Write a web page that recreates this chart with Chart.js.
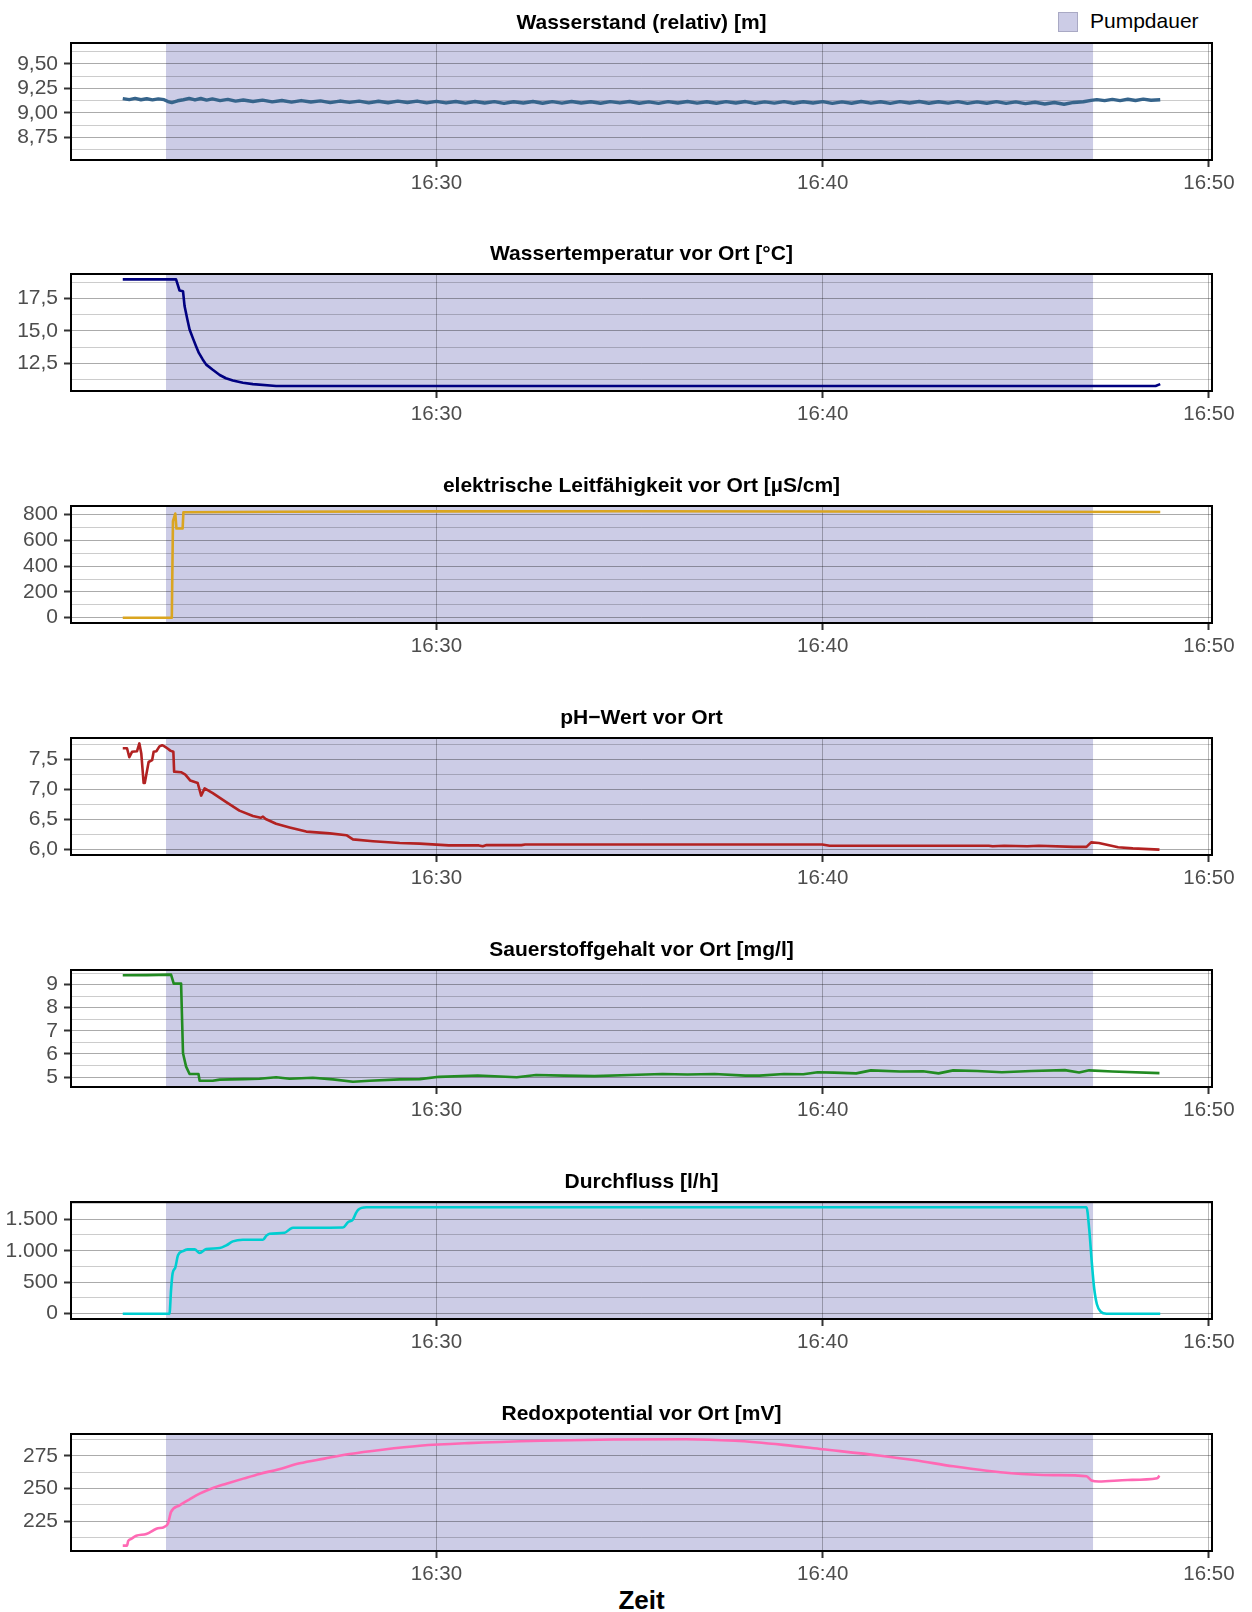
<!DOCTYPE html>
<html>
<head>
<meta charset="utf-8">
<script src="https://cdn.jsdelivr.net/npm/chart.js@4.4.1/dist/chart.umd.min.js"></script>
<style>
  body { margin: 0; width: 1252px; height: 1612px; position: relative; overflow: hidden; background: #fff; font-family: "Liberation Sans", Arial, sans-serif; }
  canvas { position: absolute; left: 0; }
  .title { position: absolute; left: 71px; width: 1141px; height: 30px; line-height: 30px; text-align: center; font-weight: bold; font-size: 21px; color: #000; }
  #legendKey { position: absolute; left: 1058px; top: 12px; width: 20px; height: 20px; box-sizing: border-box; background: #CCCCE6; border: 1px solid #A9A9C4; }
  #legendText { position: absolute; left: 1090px; top: 7px; font-size: 21px; line-height: 28px; color: #000; }
  #xTitle { position: absolute; left: 71px; width: 1141px; top: 1584px; text-align: center; font-weight: bold; font-size: 26px; line-height: 32px; color: #000; }
</style>
</head>
<body>
<div id="legendKey"></div>
<div id="legendText">Pumpdauer</div>
<div id="xTitle">Zeit</div>
<script>
// time in minutes after 16:00
const xMin = 20.54;
const xMax = 50.08;
const pumpStart = 23.0;
const pumpEnd = 47.0;
const xTickValues = [30, 40, 50];
const xTickLabels = ['16:30', '16:40', '16:50'];

const panelTitles = [
	'Wasserstand (relativ) [m]',
	'Wassertemperatur vor Ort [°C]',
	'elektrische Leitfähigkeit vor Ort [µS/cm]',
	'pH\u2212Wert vor Ort',
	'Sauerstoffgehalt vor Ort [mg/l]',
	'Durchfluss [l/h]',
	'Redoxpotential vor Ort [mV]'
];

// [minute, value]
const levelData = [[21.88,9.146],[22.05,9.136],[22.2,9.148],[22.35,9.134],[22.5,9.144],[22.65,9.133],[22.8,9.143],[22.95,9.135],[23.05,9.116],[23.15,9.106],[23.3,9.124],[23.45,9.134],[23.6,9.148],[23.75,9.132],[23.9,9.147],[24.05,9.131],[24.2,9.143],[24.4,9.126],[24.6,9.138],[24.8,9.12],[25.0,9.132],[25.25,9.116],[25.5,9.13],[25.75,9.113],[26.0,9.127],[26.25,9.11],[26.5,9.126],[26.75,9.111],[27.0,9.123],[27.25,9.105],[27.5,9.121],[27.75,9.107],[28.0,9.12],[28.25,9.103],[28.5,9.119],[28.75,9.104],[29.0,9.12],[29.25,9.106],[29.5,9.121],[29.75,9.103],[30.0,9.118],[30.25,9.102],[30.5,9.117],[30.75,9.1],[31.0,9.116],[31.25,9.101],[31.5,9.115],[31.75,9.098],[32.0,9.114],[32.25,9.101],[32.5,9.116],[32.75,9.099],[33.0,9.115],[33.25,9.1],[33.5,9.117],[33.75,9.101],[34.0,9.114],[34.25,9.099],[34.5,9.115],[34.75,9.102],[35.0,9.116],[35.25,9.099],[35.5,9.113],[35.75,9.098],[36.0,9.115],[36.25,9.101],[36.5,9.116],[36.75,9.1],[37.0,9.114],[37.25,9.099],[37.5,9.115],[37.75,9.101],[38.0,9.116],[38.25,9.098],[38.5,9.113],[38.75,9.1],[39.0,9.115],[39.25,9.099],[39.5,9.114],[39.75,9.101],[40.0,9.115],[40.25,9.098],[40.5,9.113],[40.75,9.099],[41.0,9.116],[41.25,9.1],[41.5,9.114],[41.75,9.098],[42.0,9.115],[42.25,9.101],[42.5,9.116],[42.75,9.099],[43.0,9.114],[43.25,9.1],[43.5,9.115],[43.75,9.098],[44.0,9.113],[44.25,9.099],[44.5,9.115],[44.75,9.097],[45.0,9.112],[45.25,9.095],[45.5,9.109],[45.75,9.091],[46.0,9.106],[46.25,9.089],[46.5,9.107],[46.75,9.114],[46.95,9.128],[47.1,9.136],[47.3,9.125],[47.5,9.138],[47.7,9.126],[47.9,9.139],[48.1,9.127],[48.3,9.14],[48.5,9.129],[48.74,9.135]];

const tempData = [[21.88,18.96],[23.26,18.96],[23.35,18.1],[23.44,18.05],[23.48,16.9],[23.55,15.9],[23.61,15.1],[23.7,14.4],[23.78,13.8],[23.85,13.3],[23.95,12.8],[24.04,12.4],[24.21,12.0],[24.39,11.6],[24.55,11.35],[24.73,11.17],[24.99,11.0],[25.25,10.9],[25.85,10.76],[48.62,10.76],[48.74,10.9]];

const condData = [[21.88,0],[23.15,0],[23.18,750],[23.24,808],[23.27,692],[23.43,692],[23.45,818],[26.0,822],[30.0,825],[35.0,826],[40.0,824],[45.0,822],[48.74,820]];

const phData = [[21.88,7.69],[21.99,7.69],[22.05,7.54],[22.12,7.63],[22.25,7.64],[22.31,7.77],[22.36,7.6],[22.42,7.11],[22.45,7.11],[22.55,7.46],[22.64,7.49],[22.68,7.63],[22.75,7.64],[22.83,7.72],[22.9,7.74],[22.96,7.72],[23.05,7.68],[23.11,7.65],[23.19,7.63],[23.21,7.3],[23.39,7.29],[23.5,7.25],[23.63,7.15],[23.82,7.11],[23.91,6.9],[24.0,7.02],[24.21,6.94],[24.56,6.79],[24.9,6.65],[25.25,6.56],[25.45,6.53],[25.51,6.55],[25.58,6.51],[25.85,6.43],[26.2,6.37],[26.63,6.3],[27.24,6.27],[27.67,6.24],[27.84,6.17],[28.36,6.14],[29.05,6.11],[29.57,6.1],[30.32,6.07],[31.1,6.07],[31.2,6.055],[31.3,6.075],[32.2,6.075],[32.3,6.085],[39.99,6.085],[40.18,6.065],[44.3,6.065],[44.4,6.055],[44.7,6.065],[45.3,6.055],[45.6,6.065],[46.5,6.045],[46.83,6.045],[46.95,6.12],[47.15,6.11],[47.65,6.04],[48.03,6.02],[48.72,6.0]];

const oxygenData = [[21.88,9.4],[22.5,9.41],[23.13,9.43],[23.2,9.04],[23.39,9.04],[23.44,6.03],[23.52,5.45],[23.61,5.13],[23.84,5.13],[23.87,4.84],[24.21,4.84],[24.39,4.89],[25.0,4.91],[25.42,4.93],[25.85,4.99],[26.2,4.93],[26.8,4.97],[27.32,4.9],[27.84,4.8],[28.27,4.84],[29.05,4.9],[29.57,4.91],[30.07,5.01],[31.07,5.07],[32.08,4.99],[32.58,5.09],[33.3,5.06],[34.09,5.04],[35.0,5.09],[35.85,5.13],[36.5,5.11],[37.2,5.13],[38.0,5.06],[38.36,5.06],[39.0,5.13],[39.5,5.12],[39.87,5.21],[40.3,5.19],[40.87,5.16],[41.25,5.29],[42.0,5.24],[42.6,5.25],[43.0,5.16],[43.38,5.29],[44.0,5.26],[44.64,5.21],[45.4,5.26],[46.27,5.3],[46.64,5.2],[46.9,5.29],[47.5,5.24],[48.72,5.17]];

const flowData = [[21.88,0],[23.09,0],[23.13,374],[23.17,638],[23.24,733],[23.31,927],[23.44,995],[23.56,1022],[23.74,1022],[23.87,963],[24.04,1027],[24.39,1042],[24.56,1085],[24.73,1148],[24.99,1174],[25.51,1174],[25.6,1240],[25.68,1269],[26.07,1285],[26.2,1340],[26.29,1364],[27.58,1369],[27.71,1453],[27.84,1495],[27.92,1600],[27.97,1648],[28.19,1690],[46.83,1690],[46.9,1350],[46.97,800],[47.03,400],[47.1,150],[47.2,30],[47.35,0],[48.74,0]];

const redoxData = [[21.88,206.3],[21.99,206.3],[22.02,209.8],[22.1,211.5],[22.23,213.9],[22.49,215.2],[22.75,219.2],[22.96,220.7],[23.05,223.3],[23.13,232.1],[23.35,237.1],[23.6,241.5],[23.87,246.0],[24.2,250.2],[24.56,253.6],[25.0,257.5],[25.42,261.1],[25.9,264.5],[26.46,269.2],[27.1,272.8],[27.75,276.3],[28.6,279.6],[29.57,282.6],[30.82,284.6],[32.71,286.4],[34.59,287.4],[36.47,287.6],[37.73,286.4],[38.98,283.3],[39.99,280.0],[41.5,275.0],[42.4,271.5],[43.38,266.9],[44.89,261.6],[46.0,260.2],[46.83,259.3],[46.96,256.1],[47.15,255.3],[47.9,256.5],[48.66,257.8],[48.72,259.8]];

// y axis ticks per panel
const levelTicks = [8.75, 9.0, 9.25, 9.5];
const levelLabels = ['8,75', '9,00', '9,25', '9,50'];
const tempTicks = [12.5, 15, 17.5];
const tempLabels = ['12,5', '15,0', '17,5'];
const condTicks = [0, 200, 400, 600, 800];
const condLabels = ['0', '200', '400', '600', '800'];
const phTicks = [6.0, 6.5, 7.0, 7.5];
const phLabels = ['6,0', '6,5', '7,0', '7,5'];
const oxygenTicks = [5, 6, 7, 8, 9];
const oxygenLabels = ['5', '6', '7', '8', '9'];
const flowTicks = [0, 500, 1000, 1500];
const flowLabels = ['0', '500', '1.000', '1.500'];
const redoxTicks = [225, 250, 275];
const redoxLabels = ['225', '250', '275'];

const panels = [
	{ data: levelData, color: '#36648B', min: 8.522, max: 9.711, ticks: levelTicks, labels: levelLabels, width: 3.4 },
	{ data: tempData, color: '#000080', min: 10.37, max: 19.37, ticks: tempTicks, labels: tempLabels },
	{ data: condData, color: '#DAA520', min: -41.3, max: 867, ticks: condTicks, labels: condLabels },
	{ data: phData, color: '#B22222', min: 5.91, max: 7.86, ticks: phTicks, labels: phLabels },
	{ data: oxygenData, color: '#228B22', min: 4.57, max: 9.63, ticks: oxygenTicks, labels: oxygenLabels },
	{ data: flowData, color: '#00CED1', min: -84.5, max: 1774, ticks: flowTicks, labels: flowLabels, smooth: true },
	{ data: redoxData, color: '#FF69B4', min: 202.2, max: 291.6, ticks: redoxTicks, labels: redoxLabels, smooth: true }
];

const canvasTops = [0, 231, 463, 695, 927, 1159, 1391];
const fontFamily = '"Liberation Sans", Arial, sans-serif';

const pumpShade = {
	id: 'pumpShade',
	beforeDraw(chart) {
		const { ctx, chartArea, scales } = chart;
		const x0 = scales.x.getPixelForValue(pumpStart);
		const x1 = scales.x.getPixelForValue(pumpEnd);
		ctx.save();
		ctx.fillStyle = '#CCCCE6';
		ctx.fillRect(x0, chartArea.top, x1 - x0, chartArea.bottom - chartArea.top);
		ctx.restore();
	}
};

const panelBorder = {
	id: 'panelBorder',
	afterDraw(chart) {
		const { ctx, chartArea } = chart;
		ctx.save();
		ctx.strokeStyle = '#000';
		ctx.lineWidth = 2;
		ctx.strokeRect(chartArea.left, chartArea.top, chartArea.right - chartArea.left, chartArea.bottom - chartArea.top);
		ctx.restore();
	}
};

function isMajor(value, majors) {
	return majors.some(m => Math.abs(m - value) < 1e-6);
}

function makePanel(p, i) {
	const canvas = document.createElement('canvas');
	canvas.width = 1252;
	canvas.height = 232;
	canvas.style.top = canvasTops[i] + 'px';
	document.body.appendChild(canvas);

	const title = document.createElement('div');
	title.className = 'title';
	title.textContent = panelTitles[i];
	title.style.top = (canvasTops[i] + 43 - 21.5 - 15) + 'px';
	document.body.appendChild(title);

	const step = p.ticks[1] - p.ticks[0];
	const allTicks = [];
	for (let v = p.ticks[0] - step / 2; v <= p.max; v += step / 2) {
		if (v >= p.min) allTicks.push(v);
	}

	new Chart(canvas.getContext('2d'), {
		type: 'line',
		data: {
			datasets: [{
				data: p.data.map(d => ({ x: d[0], y: d[1] })),
				borderColor: p.color,
				borderWidth: p.width || 2.6,
				pointRadius: 0,
				fill: false,
				tension: 0,
				cubicInterpolationMode: p.smooth ? 'monotone' : 'default',
				borderJoinStyle: 'round'
			}]
		},
		options: {
			responsive: false,
			animation: false,
			devicePixelRatio: 1,
			layout: { padding: { top: 43, right: 40, left: 0, bottom: 0 } },
			plugins: { legend: { display: false }, title: { display: false }, tooltip: { enabled: false } },
			scales: {
				x: {
					type: 'linear',
					min: xMin,
					max: xMax,
					afterBuildTicks: s => { s.ticks = xTickValues.map(v => ({ value: v })); },
					afterFit: s => { s.height = 72; },
					ticks: {
						autoSkip: false,
						maxRotation: 0,
						color: '#4D4D4D',
						padding: 4,
						font: { family: fontFamily, size: 20.5 },
						callback: v => xTickLabels[xTickValues.indexOf(v)]
					},
					grid: { color: 'rgba(0,0,0,0.27)', lineWidth: 1, tickLength: 7, tickWidth: 2, tickColor: '#333' },
					border: { display: false }
				},
				y: {
					type: 'linear',
					min: p.min,
					max: p.max,
					afterBuildTicks: s => { s.ticks = allTicks.map(v => ({ value: v })); },
					afterFit: s => { s.width = 71; },
					ticks: {
						autoSkip: false,
						color: '#4D4D4D',
						padding: 6,
						font: { family: fontFamily, size: 21 },
						callback: v => {
							const k = p.ticks.findIndex(m => Math.abs(m - v) < 1e-6);
							return k >= 0 ? p.labels[k] : '';
						}
					},
					grid: {
						color: c => isMajor(c.tick.value, p.ticks) ? 'rgba(0,0,0,0.33)' : 'rgba(0,0,0,0.2)',
						lineWidth: 1,
						tickLength: 7,
						tickWidth: 2,
						tickColor: c => isMajor(c.tick.value, p.ticks) ? '#333' : 'rgba(0,0,0,0)'
					},
					border: { display: false }
				}
			}
		},
		plugins: [pumpShade, panelBorder]
	});
}

panels.forEach(makePanel);
</script>
</body>
</html>
